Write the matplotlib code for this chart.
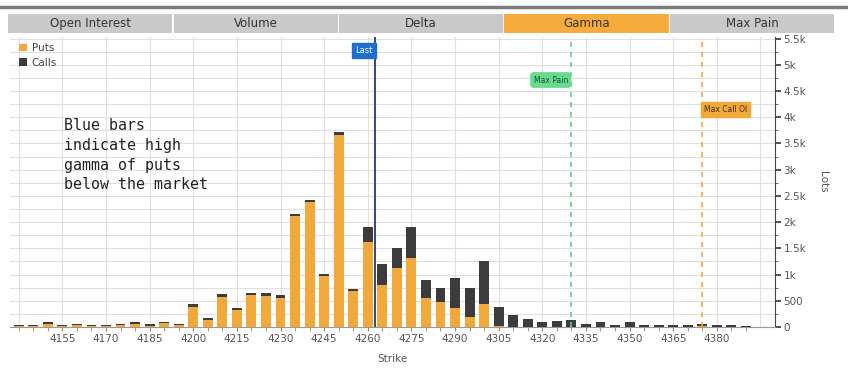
import matplotlib.pyplot as plt
from matplotlib.patches import Rectangle
from matplotlib.ticker import MultipleLocator, FuncFormatter

plt.rcParams['font.family'] = ['DejaVu Sans']

# gamma by strike (lots)
strikes = [4140, 4145, 4150, 4155, 4160, 4165, 4170, 4175, 4180, 4185,
           4190, 4195, 4200, 4205, 4210, 4215, 4220, 4225, 4230, 4235,
           4240, 4245, 4250, 4255, 4260, 4265, 4270, 4275, 4280, 4285,
           4290, 4295, 4300, 4305, 4310, 4315, 4320, 4325, 4330, 4335,
           4340, 4345, 4350, 4355, 4360, 4365, 4370, 4375, 4380, 4385, 4390]
puts = [20, 20, 60, 15, 30, 15, 15, 30, 60, 25,
        70, 30, 390, 130, 580, 320, 610, 600, 560, 2110,
        2380, 975, 3660, 680, 1630, 805, 1130, 1315, 555, 475,
        365, 185, 430, 15, 5, 5, 0, 5, 5, 5,
        5, 0, 5, 0, 0, 0, 0, 10, 0, 0, 0]
calls = [20, 25, 40, 25, 30, 25, 25, 30, 30, 25,
         30, 30, 50, 35, 45, 40, 45, 45, 45, 50,
         50, 40, 50, 50, 275, 400, 380, 590, 345, 275,
         565, 555, 820, 375, 215, 150, 92, 105, 120, 45,
         85, 30, 90, 40, 30, 40, 30, 40, 30, 40, 25]

last_price = 4262.5
max_pain = 4330
max_call_oi = 4375

tabs = ["Open Interest", "Volume", "Delta", "Gamma", "Max Pain"]
active_tab = "Gamma"

W, H = 848, 374
fig = plt.figure(figsize=(W / 100, H / 100), dpi=100)
ax = fig.add_axes([10 / W, 1 - 327 / H, (775 - 10) / W, (327 - 37) / H])

put_col = "#F2A93B"
call_col = "#3C3C3E"
ax.bar(strikes, puts, width=3.4, color=put_col, zorder=3)
ax.bar(strikes, calls, width=3.4, bottom=puts, color=call_col, zorder=3)

ax.set_xlim(4137, 4400)
ax.set_ylim(0, 5530)

# grid
ax.yaxis.set_major_locator(MultipleLocator(500))
ax.yaxis.set_minor_locator(MultipleLocator(250))
ax.set_xticks(list(range(4155, 4381, 15)))
ax.set_xticks(strikes, minor=True)
ax.grid(True, which="both", axis="y", color="#E0E0E0", lw=0.8, zorder=0)
for s in range(4140, 4400, 15):
    ax.axvline(s, color="#E0E0E0", lw=0.8, zorder=0)

ax.yaxis.tick_right()
ax.yaxis.set_label_position("right")


def kfmt(v, pos):
    if v == 0:
        return "0"
    if v < 1000:
        return f"{int(v)}"
    return f"{v / 1000:g}k"


ax.yaxis.set_major_formatter(FuncFormatter(kfmt))
ax.tick_params(axis="y", which="major", direction="out", length=4, width=1.2,
               colors="#333333", labelcolor="#555555", labelsize=7.5, pad=2)
ax.tick_params(axis="y", which="minor", length=2, color="#555555")
ax.tick_params(axis="x", which="both", direction="out", length=3,
               color="#888888", labelcolor="#555555", labelsize=7.5, pad=2)

for side in ["top", "left"]:
    ax.spines[side].set_visible(False)
ax.spines["right"].set_color("#444444")
ax.spines["bottom"].set_color("#999999")

ax.set_xlabel("Strike", fontsize=7.5, color="#555555", labelpad=7)
ax.set_ylabel("Lots", fontsize=7.5, color="#555555", rotation=270, labelpad=16)

# reference lines with tags
ax.axvline(last_price, color="#2B4C7E", lw=1.4, zorder=4)
ax.text(last_price - 0.8, 5270, "Last", ha="right", va="center", fontsize=6,
        color="white", zorder=5,
        bbox=dict(boxstyle="square,pad=0.4", fc="#1F6FD1", ec="#1F6FD1"))
ax.axvline(max_pain, color="#6BC98A", lw=1.2, ls=(0, (3, 3)), zorder=4)
ax.text(max_pain - 1.2, 4710, "Max Pain", ha="right", va="center", fontsize=5.5,
        color="#1E4D2B", zorder=5,
        bbox=dict(boxstyle="round,pad=0.35", fc="#66DD8E", ec="#66DD8E"))
ax.axvline(max_call_oi, color="#F2A93B", lw=1.2, ls=(0, (3, 3)), zorder=4)
ax.text(max_call_oi + 0.5, 4140, "Max Call OI", ha="left", va="center", fontsize=5.5,
        color="#4A2A00", zorder=5,
        bbox=dict(boxstyle="square,pad=0.4", fc="#F2A93B", ec="#F2A93B"))

# legend
ax.bar([0], [0], color=put_col, label="Puts")
ax.bar([0], [0], color=call_col, label="Calls")
ax.legend(loc="upper left", bbox_to_anchor=(0.0, 1.01), frameon=False, fontsize=7.5,
          handlelength=0.7, handleheight=0.7, handletextpad=0.5, labelspacing=0.4,
          labelcolor="#444444")

# annotation
fig.text(64 / W, 1 - 118 / H, "Blue bars\nindicate high\ngamma of puts\nbelow the market",
         family="DejaVu Sans Mono", fontsize=10.8, va="top", ha="left",
         color="#222222", linespacing=1.4)

# top rule and tabs
fig.add_artist(plt.Line2D([0, 1], [1 - 7 / H, 1 - 7 / H], color="#7A7A7A", lw=2.5))
x0, tab_w, gap = 8, 164, 1.5
for i, name in enumerate(tabs):
    left = x0 + i * (tab_w + gap)
    fc = "#F5AC3C" if name == active_tab else "#C9C9C9"
    fig.add_artist(Rectangle((left / W, 1 - 33 / H), tab_w / W, 19 / H,
                             transform=fig.transFigure, fc=fc, ec="none"))
    fig.text((left + tab_w / 2) / W, 1 - 23.5 / H, name, ha="center", va="center",
             fontsize=8.5, color="#333333")

fig.savefig("out.png", dpi=100)
